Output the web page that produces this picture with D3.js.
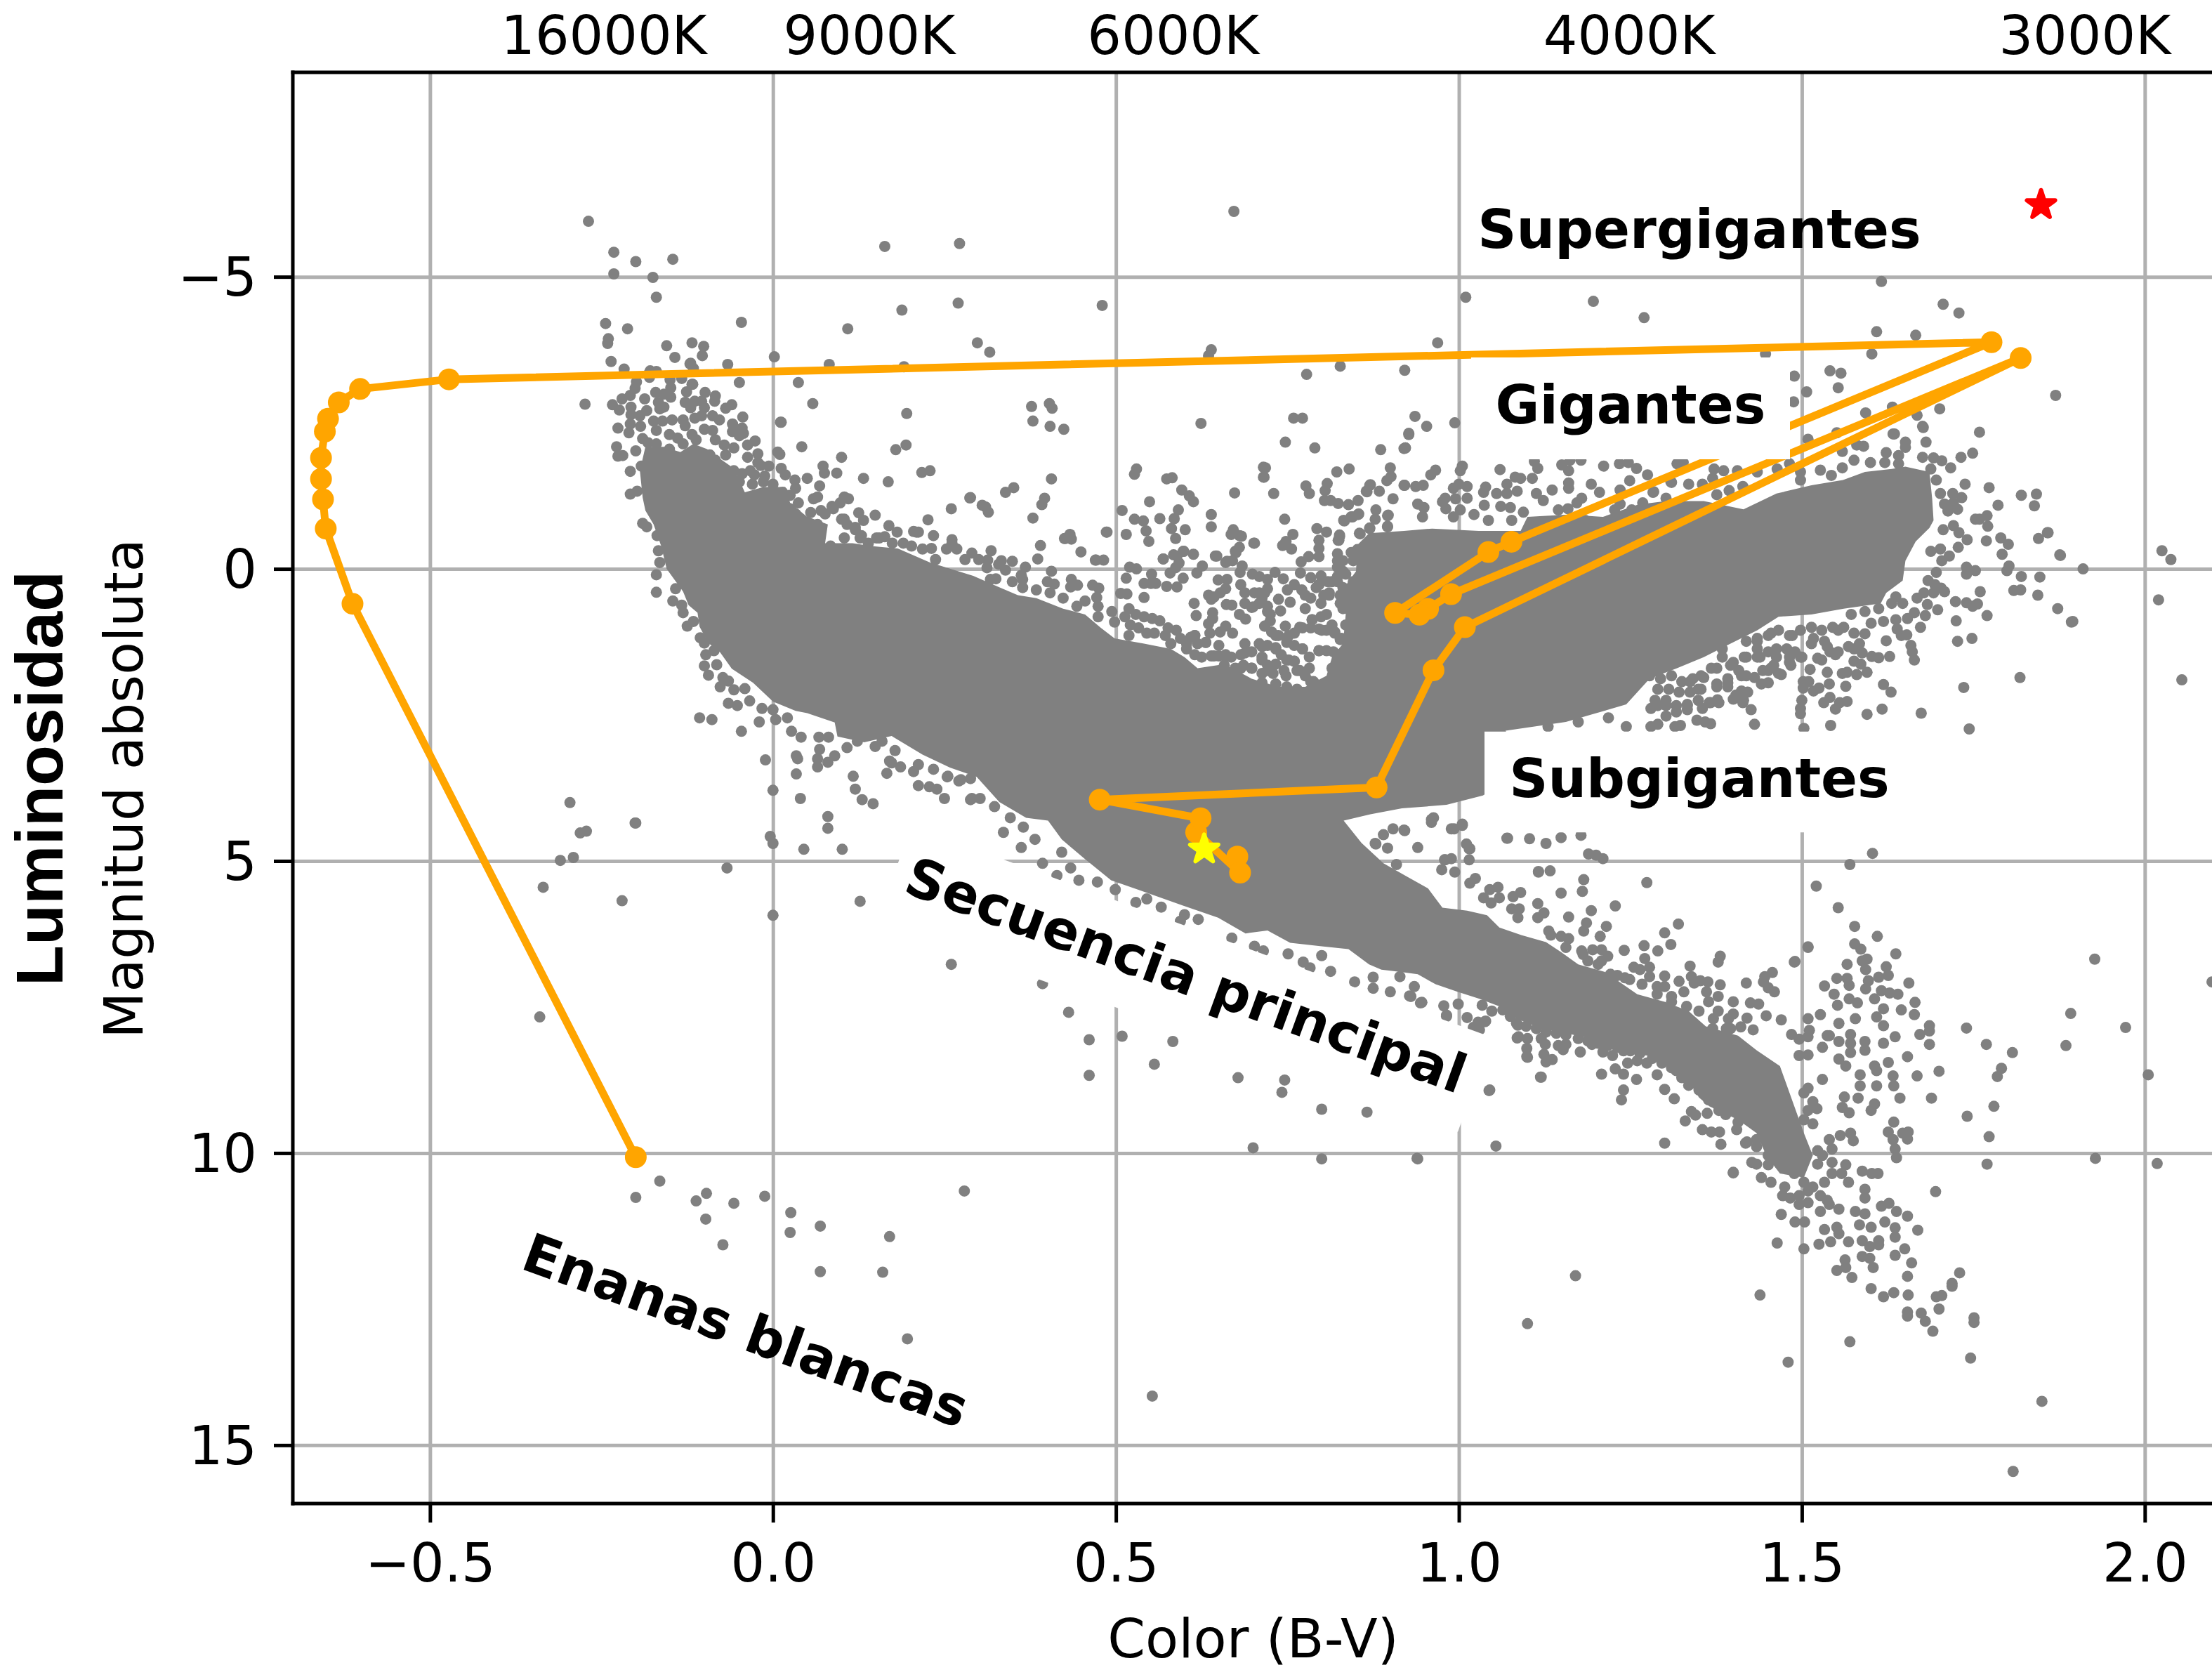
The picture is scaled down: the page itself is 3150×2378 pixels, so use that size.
<!DOCTYPE html>
<html><head><meta charset="utf-8">
<script src="https://cdn.jsdelivr.net/npm/d3@7"></script>
<style>html,body{margin:0;padding:0;background:#fff}text{font-family:"DejaVu Sans";fill:#000}</style>
</head><body><div id="c"></div>
<script>
const xTicks=[-0.5,0,0.5,1,1.5,2];
const yTicks=[-5,0,5,10,15];
const tempAt=[-0.247,0.14,0.583,1.248,1.912];
const tempLabels=["16000K","9000K","6000K","4000K","3000K"];
const sun=[0.6287,4.80];
const betelgeuse=[1.8487,-6.23];
const track=[[0.677,4.925],[0.681,5.2],[0.617,4.51],[0.6234,4.27],[0.4764,3.95],[0.88,3.74],[0.963,1.735],[1.0087,0.998],[1.819,-3.61],[0.9886,0.433],[0.955,0.685],[0.9425,0.785],[0.907,0.754],[1.043,-0.288],[1.0766,-0.465],[1.7765,-3.88],[-0.4724,-3.245],[-0.602,-3.08],[-0.633,-2.85],[-0.6487,-2.57],[-0.6533,-2.35],[-0.6589,-1.9],[-0.6589,-1.54],[-0.656,-1.19],[-0.652,-0.69],[-0.613,0.596],[-0.2,10.07]];
const coreOutline=[[-.194,-1.68],[-.186,-2.09],[-.159,-2.09],[-.135,-2],[-.116,-2.14],[-.096,-2.05],[-.08,-1.91],[-.057,-1.72],[-.041,-1.31],[-.014,-1.4],[.018,-1.4],[.025,-1.13],[.049,-.9],[.08,-.76],[.076,-.44],[.116,-.44],[.143,-.39],[.182,-.35],[.229,-.11],[.292,.12],[.327,.3],[.357,.45],[.384,.5],[.423,.68],[.455,.78],[.478,1.01],[.498,1.19],[.541,1.28],[.58,1.37],[.6,1.51],[.619,1.7],[.658,1.63],[.698,1.88],[.737,2.02],[.776,2.02],[.807,1.83],[.815,1.51],[.831,1.28],[.835,.78],[.827,.41],[.85,.04],[.852,-.41],[.869,-.61],[.92,-.65],[.961,-.69],[1.029,-.65],[1.09,-.65],[1.1,-.89],[1.159,-.93],[1.21,-.89],[1.261,-1.1],[1.302,-1.16],[1.357,-1.16],[1.415,-1.02],[1.463,-1.29],[1.514,-1.43],[1.56,-1.52],[1.592,-1.66],[1.631,-1.71],[1.651,-1.75],[1.686,-1.66],[1.69,-1.2],[1.692,-.83],[1.686,-.7],[1.666,-.47],[1.651,-.14],[1.647,.2],[1.623,.41],[1.615,.59],[1.561,.68],[1.514,.78],[1.466,.82],[1.435,1.05],[1.396,1.28],[1.357,1.51],[1.318,1.7],[1.278,1.88],[1.244,2.32],[1.156,2.62],[1.068,2.77],[1.1,3.4],[1.035,3.88],[.982,4.04],[.917,4.1],[.871,4.2],[.832,4.31],[.858,4.69],[.89,5.04],[.923,5.26],[.955,5.47],[.976,5.8],[1.012,5.85],[1.041,5.93],[1.059,6.14],[1.091,6.27],[1.127,6.39],[1.149,6.56],[1.174,6.77],[1.213,6.9],[1.26,7.28],[1.3,7.41],[1.335,7.57],[1.36,7.83],[1.407,7.99],[1.434,8.24],[1.468,8.51],[1.489,9.2],[1.503,9.66],[1.516,10.04],[1.503,10.42],[1.468,10.35],[1.448,10.04],[1.434,9.66],[1.407,9.43],[1.365,9.2],[1.35,9.05],[1.332,8.71],[1.314,8.54],[1.274,8.33],[1.228,8.25],[1.192,8.04],[1.156,7.95],[1.12,7.87],[1.084,7.7],[1.059,7.49],[1.03,7.36],[.998,7.24],[.966,7.11],[.94,6.94],[.915,6.9],[.887,6.86],[.869,6.77],[.839,6.51],[.8,6.46],[.754,6.4],[.721,6.19],[.689,6.24],[.649,5.97],[.597,5.76],[.532,5.49],[.493,5.33],[.453,4.95],[.421,4.63],[.401,4.31],[.369,4.26],[.33,3.99],[.297,3.56],[.258,3.4],[.218,3.18],[.173,2.86],[.133,2.97],[.094,2.87],[.09,2.63],[.05,2.47],[.033,2.43],[0,2.27],[-.029,1.95],[-.06,1.71],[-.077,1.43],[-.094,1.27],[-.107,.99],[-.11,.75],[-.123,.62],[-.131,.39],[-.155,0],[-.163,-.39],[-.174,-.76],[-.186,-1],[-.19,-1.22]];
const starsBright=[[-.269,-5.95],[-.232,-5.42],[-.232,-5.05],[-.2,-5.26],[-.146,-5.3],[-.175,-4.99],[-.17,-4.65],[.163,-5.52],[.272,-5.57],[.188,-4.43],[.27,-4.55],[.48,-4.51],[.672,-6.12],[-.046,-4.22],[.109,-4.11],[-.244,-4.2],[-.212,-4.11],[-.24,-3.94],[-.241,-3.86],[-.155,-3.82],[-.118,-3.87],[-.101,-3.81],[-.103,-3.65],[-.143,-3.62],[-.121,-3.51],[-.066,-3.5],[.002,-3.63],[.298,-3.87],[.316,-3.71],[-.236,-3.55],[.082,-3.5],[.191,-3.46],[.639,-3.75],[.635,-3.65],[-.217,-3.42],[-.179,-3.39],[.037,-3.19],[-.049,-3.19],[-.118,-3.16],[-.274,-2.82],[.058,-2.83],[.195,-2.66],[.011,-2.51],[.377,-2.78],[.403,-2.83],[.407,-2.75],[.379,-2.53],[.404,-2.44],[.424,-2.39],[.624,-2.49],[.042,-2.09],[.194,-2.12],[.179,-2.04],[.217,-1.65],[.229,-1.68],[.406,-1.54],[.1,-1.91],[.073,-1.76],[.075,-1.64],[.093,-1.64],[.05,-1.55],[.068,-1.42],[.132,-1.55],[.168,-1.49],[.339,-1.31],[.351,-1.39],[.287,-1.215],[.305,-1.09],[.314,-.97],[.26,-1.03],[.396,-1.21],[.392,-1.1],[.379,-.87],[.226,-.84],[.209,-.63],[.426,-.52],[.433,-.59],[.39,-.4],[.449,-.29],[.47,-.15],[.482,-.15],[.486,-.63],[.515,-.59],[.509,-1],[.527,-.85],[.53,-1.71],[.527,-1.62],[.549,-1.15],[.574,-1.54],[.582,-1.56],[.596,-1.35],[.607,-1.25],[.613,-1.15],[.591,-1.01],[.564,-.86],[.54,-.82],[.544,-.65],[.548,-.47],[.585,-.86],[.581,-.69],[.587,-.52],[.601,-.67],[.639,-.93],[.639,-.72],[.673,-1.3],[.671,-.63],[.68,-.57],[.701,-.44],[.598,-.3],[.645,-.22],[.675,-.28],[.662,-.13],[.569,-.17],[.589,-.22],[.715,-1.74],[.715,-1.57]];
const starsBlueEnd=[[-.18,-3.36],[-.17,-3.38],[-.18,-3.28],[-.12,-3.52],[-.116,-3.43],[-.15,-3.24],[-.133,-3.26],[-.199,-3.2],[-.201,-3.09],[-.208,-2.97],[-.22,-2.91],[-.234,-2.81],[-.224,-2.72],[-.117,-3.16],[-.126,-3.03],[-.099,-3.02],[-.084,-2.96],[-.085,-2.87],[-.171,-3.02],[-.149,-3.1],[-.149,-2.94],[-.159,-2.99],[-.187,-2.91],[-.167,-2.85],[-.159,-2.77],[-.165,-2.74],[-.128,-2.85],[-.12,-2.76],[-.114,-2.87],[-.104,-2.87],[-.1,-2.76],[-.069,-2.75],[-.06,-2.81],[-.207,-2.77],[-.207,-2.64],[-.194,-2.62],[-.184,-2.71],[-.044,-2.6],[.012,-2.51],[-.226,-2.41],[-.21,-2.33],[-.208,-2.48],[-.193,-2.44],[-.174,-2.53],[-.161,-2.53],[-.147,-2.55],[-.131,-2.55],[-.128,-2.45],[-.114,-2.58],[-.104,-2.62],[-.088,-2.62],[-.078,-2.55],[-.059,-2.48],[-.059,-2.35],[-.045,-2.41],[-.043,-2.32],[-.049,-2.28],[-.17,-2.37],[-.151,-2.3],[-.139,-2.24],[-.19,-2.23],[-.182,-2.16],[-.118,-2.3],[-.1,-2.39],[-.088,-2.37],[-.112,-2.21],[-.084,-2.21],[-.071,-2.12],[-.057,-2.07],[-.037,-2.12],[-.026,-2.19],[-.228,-2.09],[-.226,-1.93],[-.219,-1.94],[-.2,-2.02],[.007,-2],[.01,-1.96],[-.022,-1.97],[-.022,-1.82],[-.037,-1.91],[-.006,-1.76],[-.012,-1.59],[-.027,-1.61],[-.045,-1.63],[.012,-1.72],[.018,-1.61],[.032,-1.52],[.033,-1.38],[-.208,-1.67],[-.192,-1.76],[-.208,-1.28],[-.198,-1.33],[.059,-1.2],[.065,-1.23],[.104,-1.23],[.11,-1.2],[.098,-1.13],[.288,-1.22],[.125,-.96],[.149,-.92],[.132,-.83],[.086,-1.07],[.1,-.85],[.07,-.998],[.055,-.965],[.169,-.74],[.181,-.63],[.205,-.64],[.212,-.63],[.234,-.57],[.261,-.5],[.12,-.71],[.129,-.57],[.155,-.53],[.19,-.44],[.231,-.35],[.318,-.31],[.29,-.27],[.313,-.15],[-.19,-.78],[-.184,-.72],[-.169,-.57],[-.167,-.31],[-.165,-.11],[-.17,.1],[-.17,.4],[-.142,.34],[-.146,.55],[-.133,.62],[-.131,.75],[-.125,.98],[-.116,.9],[-.106,1.18],[-.1,1.27],[-.098,1.47],[-.086,1.4],[-.1,1.66],[-.082,1.64],[-.094,1.82],[-.073,1.86],[-.065,1.92],[-.077,2.02],[-.057,2.07],[-.041,2.05],[-.065,2.3],[-.052,2.34],[-.034,2.26],[-.107,2.55],[-.089,2.58],[-.046,2.78],[-.02,2.62],[-.016,2.39],[0,2.41],[.004,2.58],[.021,2.55],[.027,2.78],[.041,2.88],[.067,2.88],[.081,2.88],[.068,3.09],[.108,3.06],[.123,2.95],[.149,3.04],[.159,2.95],[.178,3.11]];
const starsUpperEdge=[[.076,-.94],[.088,-1.03],[.104,-.85],[.108,-.76],[.12,-.67],[.127,-.53],[.139,-.44],[.151,-.53],[.163,-.55],[.174,-.44],[.202,-.39],[.218,-.34],[.237,-.16],[.253,-.34],[.261,-.44],[.268,-.34],[.28,-.16],[.3,-.16],[.312,-.02],[.104,-.53],[.084,-.39],[.065,-.76],[.049,-.76],[.033,-.94],[.025,-1.03],[.037,-1.13],[.025,-1.26],[.014,-1.31],[0,-1.45],[-.014,-1.49],[-.03,-1.45],[-.033,-1.68],[-.018,-1.77],[-.057,-1.68],[-.049,-1.49],[-.069,-1.95],[-.084,-1.86],[-.092,-1.95],[-.17,-2.14],[-.151,-2.05],[-.131,-2.14],[.317,.18],[.364,.32],[.384,.36],[.404,.41],[.423,.5],[.443,.64],[.455,.55],[.474,.64],[.474,.82],[.494,.73],[.498,.91]];
const starsMottled=[[.717,.98],[.727,1.08],[.737,1.14],[.749,1.19],[.76,1.1],[.772,1.01],[.784,1.01],[.796,1.03],[.807,1.05],[.819,1.08],[.829,1.19],[.749,1.26],[.76,1.31],[.772,1.37],[.782,1.51],[.782,1.7],[.796,1.4],[.807,1.4],[.823,1.47],[.823,1.6],[.819,1.74],[.831,1.74],[.843,1.65],[.709,1.28],[.721,1.31],[.733,1.35],[.741,1.47],[.749,1.56],[.76,1.58],[.713,1.56],[.721,1.65],[.733,1.63],[.713,1.79],[.729,1.79],[.748,1.83],[.764,1.74],[.776,1.83],[.788,1.93],[.764,2.06],[.749,2.02],[.733,1.97],[.713,1.95],[.688,1.28],[.682,1.47],[.698,1.42],[.668,1.51],[.66,1.47],[.65,1.49],[.639,1.49],[.625,1.51],[.615,1.47],[.603,1.37],[.619,1.28],[.631,1.26],[.609,1.17],[.615,1.14],[.594,1.19],[.588,1.05],[.576,1.01],[.564,.89],[.553,.85],[.541,.82],[.529,.78],[.519,.68],[.513,.82],[.521,.96],[.533,1.01],[.545,1.1],[.519,1.14],[.556,1.1],[.572,1.14],[.58,1.28],[.686,1.65],[.698,1.7],[.674,1.7],[.658,1.65],[.725,.78],[.721,.64],[.709,.59],[.698,.66],[.702,.41],[.717,.41],[.786,.87],[.799,.82],[.803,.45],[.811,.41],[.827,.45],[.835,.5],[.831,.68],[.807,.78],[.815,.96],[.835,.96],[.776,.45],[.792,.32],[.815,.22],[.823,.13],[.831,.32],[.835,.09],[.846,.22],[.843,.41],[.85,.5],[.846,-.14],[.831,.04],[.823,-.14],[.852,-.33]];
const starsFaint=[[-.011,3.27],[.034,3.2],[.036,3.25],[.034,3.51],[0,3.79],[.04,3.93],[.117,3.55],[.12,3.77],[.13,3.95],[.146,4.02],[.065,3.25],[.065,3.39],[.08,3.31],[.09,3.2],[.166,3.5],[.173,3.32],[.186,3.39],[.212,3.71],[.228,3.73],[.239,3.77],[.205,3.47],[.212,3.35],[.234,3.43],[.255,3.55],[.25,3.93],[.271,3.63],[.288,3.59],[.288,3.95],[.302,3.93],[.08,4.24],[.08,4.44],[-.2,4.35],[-.004,4.58],[0,4.7],[.045,4.8],[.101,4.8],[-.067,5.12],[0,5.93],[.127,5.69],[-.296,4],[-.281,4.52],[-.272,4.49],[-.201,4.35],[-.31,4.99],[-.291,4.94],[-.335,5.45],[-.22,5.68],[-.34,7.67],[.26,6.77],[-.165,10.48],[-.2,10.76],[-.112,10.82],[-.097,10.69],[-.057,10.86],[-.098,11.13],[-.073,11.57],[-.012,10.74],[.026,11.02],[.025,11.36],[.069,11.25],[.069,12.03],[.17,11.43],[.16,12.04],[.196,13.18],[.279,10.65],[.553,14.16],[.336,4.51],[.362,4.77],[.393,5.04],[.393,7.1],[.431,7.59],[.461,8.06],[.509,8],[.583,8.09],[.556,8.48],[.461,8.67],[.678,8.71],[.746,8.75],[.742,8.96],[.8,9.25],[.866,9.3],[1.044,8.93],[.7,9.91],[.8,10.1],[.94,10.1],[1.054,9.88],[1.071,4.61],[1.103,4.62],[.94,4.77],[.904,4.45],[.92,4.47],[.89,4.55],[.878,4.7],[.896,4.78],[1.015,4.98],[.979,4.98],[1.116,5.19],[.909,5.06],[.963,4.26],[.96,4.34],[.989,4.45],[1.005,4.39],[1.015,4.79],[.473,5.36],[.499,5.49],[.529,5.71],[.545,5.65],[.566,5.79],[.6,5.92],[.62,6],[.594,6.03],[.669,6.32],[.702,6.46],[.715,6.54],[.751,6.59],[.773,6.73],[.783,6.83],[.813,6.89],[.8,6.62],[.848,7.07],[.875,6.99],[.9,7.24],[.875,7.18],[.93,7.32],[.946,7.42],[.982,7.64],[1.021,7.85],[1.038,7.75],[1.087,8.01],[1.1,8.04],[1.1,8.36],[1.12,8.7],[.17,3.29],[.254,3.56],[.274,3.61],[.29,3.93],[.323,4.07],[.346,4.26],[.365,4.42],[.382,4.63],[.421,4.85],[.434,5.12],[.414,5.25],[.446,5.33]];
const starsSubgiantTop=[[.31,-1.06],[.333,-.14],[.349,-.13],[.368,-.03],[.339,.02],[.329,-.08],[.362,.11],[.364,.18],[.325,.17],[.349,.22],[.406,.04],[.4,.22],[.41,.26],[.435,.18],[.434,.31],[.444,.28],[.466,.28],[.475,.33],[.472,.49],[.52,-.03],[.53,0],[.515,.16],[.507,.42],[.516,.43],[.541,.49],[.541,.25],[.551,.25],[.558,.25],[.552,.09],[.569,-.17],[.584,-.24],[.599,-.3],[.613,-.25],[.592,-.1],[.587,-.02],[.579,.07],[.598,.16],[.626,-.05],[.618,.07],[.574,.3],[.589,.31],[.649,.19],[.662,.18],[.66,.34],[.652,.41],[.643,.48],[.635,.45],[.614,.59],[.617,.8],[.661,.61],[.669,.62],[.639,.52],[.641,.75],[.641,.85],[.635,.94],[.637,1.1],[.68,.78],[.689,.86],[.66,.98],[.652,1.08],[.67,1.1],[.65,1.31],[.682,.27],[.688,.41],[.688,.59],[.7,.65],[.699,.09],[.709,.13],[.721,.18],[.732,.06],[.744,.17],[.769,.07],[.784,.15],[.799,.12],[.75,.36],[.76,.27],[.771,.36],[.796,.27],[.809,.22],[.709,.41],[.721,.34],[.713,.5],[.737,.52],[.754,.57],[.721,.73],[.74,.72],[.725,.89],[.717,.98],[.747,.98],[.776,.68],[.784,.5],[.823,.22],[.811,.45],[.827,.59],[.823,-.03],[.831,-.14],[.823,-.26],[.843,-.28],[.854,-.19],[.856,-.6],[.87,-.7],[.896,-.72],[.603,1.28],[.615,1.14],[.631,1.26],[.643,1.49],[.66,1.49],[.688,1.44],[.713,1.33],[.733,1.37],[.752,1.56],[.76,1.58],[.772,1.37],[.796,1.4],[.817,1.42],[.827,1.21],[.733,1.14],[.752,1.14],[.768,1],[.786,.87],[.8,1.05],[.819,1.1],[.713,1.51],[.721,1.74],[.698,1.7],[.682,1.7],[.745,1.74],[.768,1.74],[.784,1.93],[.815,1.7],[.799,.59],[.747,-2.17],[.79,-2.07],[.73,-1.29],[.718,-1.73],[.716,-1.57],[.777,-1.42],[.782,-1.29],[.822,-1.66],[.84,-1.71],[.808,-1.46],[.805,-1.34],[.804,-1.17],[.813,-1.17],[.824,-1.12],[.839,-1.1],[.853,-1.17],[.866,-1.32],[.871,-1.44],[.884,-1.33],[.895,-1.51],[.901,-1.58],[.9,-1.73],[.904,-1.2],[.886,-2.04],[.92,-2.06],[.92,-1.43],[.746,-.85],[.833,-.82],[.845,-.89],[.854,-.94],[.879,-1.01],[.878,-.85],[.897,-.92],[.793,-.69],[.807,-.63],[.826,-.58],[.825,-.49],[.758,-.59],[.743,-.4],[.756,-.34],[.748,-.47],[.796,-.49],[.796,-.35],[.796,-.21],[.781,-.21],[.77,-.12],[.671,-.67],[.668,-.59],[.683,-.56],[.702,-.44],[.68,-.37],[.674,-.3],[.647,-.22],[.66,-.11],[.67,-.14],[.684,-.05],[.681,.06],[.487,-.63],[.425,-.52],[.435,-.51],[.386,-.17],[.471,-.15]];
const starsRedClump=[[.922,-2.07],[.927,-2.3],[.966,-1.69],[.959,-1.61],[1.005,-1.76],[1.002,-1.68],[1.06,-1.7],[1.11,-1.84],[1.115,-1.72],[1.15,-1.78],[1.16,-1.68],[1.162,-1.86],[1.178,-1.86],[1.211,-1.76],[1.234,-1.8],[1.247,-1.82],[1.259,-1.72],[1.275,-1.61],[1.319,-1.8],[1.082,-1.57],[1.09,-1.55],[1.107,-1.55],[1.249,-1.51],[1.309,-1.49],[.921,-1.43],[.937,-1.41],[.948,-1.43],[.87,-1.43],[.865,-1.33],[.992,-1.38],[1,-1.45],[1.012,-1.41],[1.039,-1.4],[1.036,-1.31],[1.07,-1.45],[1.085,-1.33],[1.055,-1.29],[1.07,-1.29],[1.136,-1.35],[1.16,-1.47],[1.16,-1.38],[1.193,-1.45],[1.205,-1.31],[1.113,-1.29],[1.123,-1.17],[1.235,-1.35],[1.235,-1.11],[1.227,-1.01],[1.283,-1.31],[1.302,-1.21],[1.179,-1.21],[1.172,-1.13],[.976,-1.15],[.98,-1.21],[.995,-1.2],[1.012,-1.21],[.94,-1.11],[.949,-1.05],[.947,-.89],[1.037,-1.09],[.896,-.91],[.853,-.93],[.843,-.89],[.832,-.83],[.981,-1.03],[1.002,-1.01],[1.022,-.93],[1.061,-1.07],[1.075,-1.05],[1.094,-.97],[1.145,-1.01],[1.159,-1.03],[1.268,-1.13],[1.252,-1.01],[.87,-.69],[.896,-.73],[.855,-.61],[.826,-.55],[.824,-.49],[1.184,-.83],[1.235,-.83],[1.281,-.75],[.992,-.89],[1.043,-.83],[1.077,-.83]];
const starsGiantBranch=[[1.87,-2.97],[1.616,-4.92],[1.706,-4.53],[1.729,-4.38],[1.609,-4.06],[1.666,-4],[1.602,-3.68],[1.759,-2.34],[1.196,-4.58],[1.27,-4.3],[1.01,-4.65],[.969,-3.87],[.921,-3.4],[.827,-3.47],[.778,-3.33],[.759,-2.58],[.772,-2.58],[.936,-2.61],[.953,-2.44],[.927,-2.32],[.922,-2.07],[.994,-2.5],[1.541,-3.39],[1.557,-3.35],[1.553,-3.1],[1.507,-3.03],[1.489,-3.3],[1.488,-2.86],[1.593,-2.67],[1.632,-2.77],[1.668,-2.63],[1.701,-2.74],[1.676,-2.44],[1.681,-2.17],[1.635,-2.31],[1.447,-3.68],[1.82,-1.26],[1.842,-1.28],[1.839,-1.08],[2.025,-.31],[2.038,-.16],[2.02,.53],[2.054,1.9],[1.91,0],[1.877,-.23],[1.845,-.52],[1.859,-.62],[1.873,.68],[1.895,.9],[1.818,1.86],[1.736,2.03],[1.744,2.74],[1.674,2.47],[1.677,-2.42],[1.676,-1.91],[1.633,-2.31],[1.749,-1.98],[1.732,-1.91],[1.651,-2.17],[1.651,-2.08],[1.509,-2.22],[1.551,-2.33],[1.58,-2.12],[1.59,-2.1],[1.559,-2.01],[1.576,-1.86],[1.559,-1.73],[1.623,-1.99],[1.641,-1.94],[1.641,-1.8],[1.6,-1.82],[1.621,-1.82],[1.692,-1.9],[1.704,-1.85],[1.717,-1.73],[1.688,-1.71],[1.318,-1.8],[1.327,-1.82],[1.372,-1.71],[1.386,-1.68],[1.406,-1.68],[1.435,-1.66],[1.464,-1.71],[1.482,-1.8],[1.527,-1.69],[1.543,-1.6],[1.498,-1.66],[1.498,-1.52],[1.31,-1.48],[1.335,-1.45],[1.37,-1.55],[1.355,-1.45],[1.414,-1.41],[1.394,-1.34],[1.284,-1.32],[1.376,-1.27],[1.696,-1.52],[1.738,-1.45],[1.773,-1.39],[1.786,-1.09],[1.72,-1.29],[1.733,-1.22],[1.702,-1.29],[1.708,-1.11],[1.713,-.99],[1.727,-1.02],[1.721,-1.13],[1.77,-.91],[1.753,-.85],[1.759,-.85],[1.771,-.73],[1.858,-.62],[1.721,-.74],[1.729,-.62],[1.741,-.5],[1.706,-.67],[1.769,-.48],[1.79,-.53],[1.801,-.42],[1.792,-.25],[1.876,-.24],[1.728,-.37],[1.715,-.22],[1.704,-.14],[1.702,-.34],[1.688,-.3],[1.74,-.03],[1.753,.03],[1.74,.09],[1.802,-.05],[1.799,.03],[1.82,.13],[1.847,.14],[1.696,.06],[1.684,.2],[1.694,.27],[1.76,.39],[1.809,.37],[1.819,.36],[1.844,.45],[1.893,.91],[1.703,.33],[1.708,.39],[1.692,.41],[1.724,.56],[1.74,.58],[1.749,.64],[1.756,.6],[1.683,.61],[1.698,.7],[1.68,.8],[1.77,.8],[1.725,.89],[1.727,1.24],[1.748,1.19],[1.673,1],[1.664,.75],[1.654,.85],[1.637,.87],[1.639,1.03],[1.645,1.14],[1.653,1.13],[1.623,1.23],[1.659,1.31],[1.661,1.42],[1.664,1.56],[1.628,1.5],[1.612,1.52],[1.602,1.5],[1.592,1.11],[1.601,.93],[1.619,.9],[1.647,.59],[1.637,.48],[1.668,.5],[1.678,.41],[1.588,1.44],[1.576,1.58],[1.586,1.63],[1.595,1.77],[1.58,1.81],[1.566,1.77],[1.559,1.79],[1.619,1.98],[1.63,2.11],[1.617,2.4],[1.595,2.49],[1.542,2.68],[1.564,2.01],[1.54,1.97],[1.537,1.77],[1.512,1.72],[1.529,1.56],[1.523,1.53],[1.566,2.27],[1.555,2.29],[1.549,2.4],[1.541,2.2],[1.532,2.29],[1.525,2.04],[1.517,2.09],[1.51,1.93],[1.502,1.93],[1.502,2.04],[1.5,2.25],[1.498,2.39],[1.498,2.48],[1.426,2.41],[1.431,2.66],[1.503,2.73],[1.47,1.81],[1.451,1.95],[1.441,1.97],[1.431,1.86],[1.421,2.11],[1.414,2.29],[1.4,2.23],[1.379,2.29],[1.367,2.29],[1.355,2.39],[1.376,2.02],[1.392,1.95],[1.357,1.86],[1.367,2.65],[1.347,2.59],[1.323,2.68],[1.333,2.41],[1.317,2.45],[1.302,2.52],[1.29,2.66],[1.302,2.34],[1.29,2.34],[1.459,1.65],[1.451,1.74],[1.463,1.51],[1.439,1.51],[1.419,1.51],[1.482,1.51],[1.498,1.51],[1.484,1.65],[1.435,1.19],[1.435,1.37],[1.455,1.1],[1.486,1.14],[1.514,1.28],[1.537,1.33],[1.549,1.47],[1.576,1.37],[1.553,1.05],[1.396,1.65],[1.376,1.7],[1.412,1.83],[1.384,1.37],[1.419,1.24],[1.337,1.93],[1.349,2.06]];
const starsGiantLowerFringe=[[1.278,1.83],[1.294,1.88],[1.31,1.83],[1.325,1.93],[1.341,1.88],[1.353,1.83],[1.29,2.06],[1.306,2.06],[1.321,2.11],[1.337,2.11],[1.353,2.06],[1.286,2.25],[1.302,2.25],[1.317,2.34],[1.333,2.34],[1.349,2.25],[1.365,2.29],[1.368,1.7],[1.384,1.51],[1.4,1.6],[1.416,1.51],[1.392,1.88],[1.408,1.74],[1.419,1.83],[1.376,1.97],[1.392,2.02],[1.404,2.16],[1.415,2.25],[1.443,1.74],[1.455,1.7],[1.466,1.79],[1.435,1.51],[1.451,1.42],[1.463,1.37],[1.478,1.37],[1.49,1.42],[1.5,1.51],[1.482,1.6],[1.435,1.24],[1.451,1.14],[1.466,1.05],[1.482,1.14],[1.498,1.05],[1.514,1],[1.529,1.05],[1.545,1],[1.561,1],[1.576,1.1],[1.584,1.28],[1.568,1.33],[1.553,1.42],[1.541,1.42],[1.533,1.24],[1.517,1.19],[1.572,.78],[1.592,.73],[1.612,.68],[1.631,.59],[1.28,2.39],[1.315,2.7],[1.359,2.62],[1.333,2.32],[1.377,2.24],[1.412,2.09],[1.218,2.55],[1.174,2.62],[1.13,2.7],[1.244,2.7],[1.28,2.7]];
const starsLowerBand=[[1.07,4.61],[1.127,4.7],[1.149,4.6],[1.178,4.56],[1.189,4.88],[1.2,4.9],[1.21,4.96],[1.116,5.18],[1.133,5.17],[1.182,5.32],[1.18,5.52],[1.274,5.37],[1.149,5.55],[1.228,5.77],[1.193,5.85],[1.16,5.96],[1.186,6.06],[1.182,6.2],[1.215,6.12],[1.206,6.29],[1.32,6.08],[1.3,6.23],[1.309,6.43],[1.29,6.54],[1.27,6.45],[1.241,6.53],[1.381,6.63],[1.378,6.73],[1.271,6.67],[1.337,6.8],[1.278,6.82],[1.255,6.82],[1.3,6.97],[1.3,7.15],[1.381,7.12],[1.419,7.09],[1.321,7.06],[1.339,6.98],[1.352,7.05],[1.363,7.07],[1.378,7.32],[1.4,7.41],[1.425,7.43],[1.42,7.69],[1.411,7.84],[1.429,7.89],[1.208,8.65],[1.228,8.56],[1.24,8.65],[1.259,8.74],[1.119,8.7],[1.045,8.92],[1.24,8.92],[1.237,9.09],[1.3,8.91],[1.314,9.07],[1.289,8.66],[1.339,9.29],[1.33,9.45],[1.362,9.32],[1.355,9.6],[1.368,9.64],[1.38,9.64],[1.405,9.6],[1.3,9.83],[1.382,9.85],[1.418,9.83],[1.4,10.34],[.939,10.09],[1.085,8.03],[1.099,8.21],[1.099,8.35],[1.124,8.31],[1.127,8.44],[1.136,8.4],[1.126,8.14],[1.145,8.16],[1.152,8.23],[1.156,8.14],[1.177,8.27],[1.194,8.14],[1.21,8.27],[1.224,8.33],[1.24,8.25],[1.246,8.46],[1.26,8.42],[1.274,8.46],[.982,7.66],[1.012,7.68],[1.028,7.76],[1.039,7.74],[1.03,7.89],[.928,7.31],[.944,7.43],[.978,7.48],[.999,7.45],[.914,6.98],[.935,7.15],[1.034,7.47],[1.048,7.57],[1.064,7.55],[1.075,7.66],[1.086,7.81],[1.12,8.04],[.921,4.48],[.879,4.71],[.993,4.45],[1.005,4.37],[.96,4.29],[1.011,4.71],[1.016,4.79],[.98,4.98],[.989,4.96],[.975,5.15],[.994,5.19],[1.016,5.38],[1.024,5.3],[1.045,5.49],[1.057,5.45],[1.036,5.63],[1.059,5.63],[1.047,5.72],[1.079,5.61],[1.09,5.54],[1.077,5.82],[1.088,5.82],[1.115,5.73],[1.124,5.89],[1.115,5.97],[1.086,5.97],[1.149,6.29],[1.16,6.33],[1.131,6.2],[1.179,6.54],[1.195,6.52],[1.208,6.52],[1.217,6.63],[1.188,6.71],[1.208,6.71],[1.231,6.96],[1.242,7],[1.264,6.86],[1.278,6.98],[1.289,7.15],[1.31,7.32],[1.328,7.24],[1.343,7.09],[1.361,7.24],[1.364,7.41],[1.378,7.57],[1.4,7.62],[1.37,7.87],[1.39,7.87],[1.084,7.78],[1.098,7.83],[1.113,7.87],[1.127,7.93],[1.142,7.95],[1.156,7.98],[1.174,8.04],[1.188,8.08],[1.203,8.12],[1.217,8.16],[1.231,8.19],[1.25,8.25],[1.264,8.29],[1.282,8.38],[1.296,8.46],[1.31,8.54],[1.325,8.71],[1.335,8.84],[1.35,8.92],[1.364,9.09],[1.378,9.18],[1.389,9.34],[1.134,6.27],[1.156,6.48],[1.181,6.6],[1.203,6.77],[1.221,6.94],[1.249,7.03],[1.267,7.11],[1.289,7.28],[1.31,7.41],[1.332,7.49],[1.35,7.57],[1.371,7.7],[1.393,7.7],[1.396,7.87]];
const starsRedDwarfs=[[1.446,6.98],[1.457,6.91],[1.444,7.07],[1.451,7.17],[1.46,7.24],[1.489,6.73],[1.509,6.48],[1.437,7.45],[1.448,7.65],[1.47,7.72],[1.485,7.97],[1.496,8.05],[1.509,7.7],[1.511,7.9],[1.509,8.01],[1.509,8.32],[1.496,8.33],[1.527,7.63],[1.54,7.99],[1.53,8.19],[1.53,8.74],[1.509,8.89],[1.516,9.12],[1.522,9.24],[1.556,9.7],[1.571,9.66],[1.575,9.79],[1.54,9.77],[1.544,9.93],[1.4,10.33],[1.427,10.16],[1.451,10.2],[1.441,10.42],[1.455,10.5],[1.42,9.81],[1.434,9.77],[1.475,10.58],[1.472,10.73],[1.483,10.77],[1.496,10.88],[1.49,11.18],[1.504,11.18],[1.47,11.05],[1.464,11.54],[1.503,11.64],[1.509,10.85],[1.527,11],[1.537,10.81],[1.523,9.96],[1.564,10.2],[1.544,10.16],[1.558,10.35],[1.588,10.31],[1.602,10.35],[1.611,10.35],[1.568,10.5],[1.592,10.62],[1.592,10.77],[1.54,10.88],[1.554,10.96],[1.578,11],[1.592,11.04],[1.616,10.91],[1.627,10.86],[1.638,11],[1.654,11.08],[1.621,11.18],[1.636,11.28],[1.636,11.44],[1.669,11.32],[1.601,11.27],[1.584,11.23],[1.551,11.27],[1.533,11.31],[1.554,11.38],[1.525,11.56],[1.542,11.52],[1.568,11.52],[1.588,11.5],[1.612,11.5],[1.612,11.57],[1.599,11.6],[1.588,11.77],[1.599,11.8],[1.604,11.96],[1.65,11.64],[1.636,11.75],[1.66,11.88],[1.654,12.11],[1.563,11.83],[1.551,12.01],[1.573,12.13],[1.564,11.96],[1.601,12.32],[1.619,12.46],[1.634,12.39],[1.655,12.43],[1.654,12.72],[1.654,12.79],[1.674,12.74],[1.68,12.88],[1.691,13.05],[1.696,12.46],[1.704,12.44],[1.7,12.67],[1.719,12.23],[1.719,12.28],[1.73,12.05],[1.751,12.82],[1.751,12.9],[1.746,13.51],[1.57,13.23],[1.48,13.58],[1.439,12.43],[1.17,12.1],[1.1,12.92],[1.85,14.25],[1.808,15.45],[1.695,10.66],[1.77,10.19],[1.928,10.09],[2.018,10.18],[1.741,9.37],[1.773,9.72],[1.78,9.2],[1.785,8.69],[1.791,8.55],[1.807,8.28],[1.769,8.14],[1.74,7.86],[1.885,8.16],[1.892,7.61],[1.927,6.68],[1.972,7.85],[2.005,8.66],[2.098,7.07],[1.689,9.06],[1.7,8.6],[1.668,8.68],[1.654,8.35],[1.686,8.14],[1.686,7.91],[1.686,7.82],[1.672,7.97],[1.665,7.42],[1.664,7.63],[1.645,7.55],[1.656,7.09],[1.64,7.28],[1.628,7.26],[1.616,7.22],[1.637,6.59],[1.623,6.81],[1.626,6.96],[1.612,6.99],[1.61,6.29],[1.577,6.12],[1.553,5.8],[1.521,5.43],[1.509,6.47],[1.49,6.72],[1.57,5.06],[1.603,4.87],[1.577,6.42],[1.586,6.51],[1.595,6.68],[1.588,6.71],[1.593,6.86],[1.597,7.05],[1.593,7.19],[1.566,6.77],[1.533,7.14],[1.551,7.01],[1.566,7.01],[1.569,7.13],[1.547,7.28],[1.552,7.47],[1.569,7.36],[1.581,7.43],[1.606,7.36],[1.619,7.53],[1.609,7.67],[1.619,7.82],[1.578,7.7],[1.554,7.78],[1.537,7.99],[1.571,8.12],[1.592,8.09],[1.554,8.09],[1.571,8.28],[1.592,8.24],[1.571,7.97],[1.636,8.01],[1.619,8.12],[1.626,8.45],[1.609,8.59],[1.554,8.39],[1.564,8.51],[1.585,8.66],[1.606,8.51],[1.633,8.68],[1.634,8.85],[1.609,8.85],[1.585,8.85],[1.643,9.06],[1.562,9.04],[1.582,9.06],[1.606,9.16],[1.601,9.27],[1.559,9.22],[1.569,9.31],[1.634,9.47],[1.626,9.64],[1.647,9.66],[1.655,9.64],[1.633,9.77],[1.654,9.76],[1.636,9.93],[1.638,10.08],[1.434,9.89],[1.451,10.04],[1.468,10.19],[1.489,10.35],[1.503,10.5],[1.516,10.58],[1.533,10.5],[1.544,10.35],[1.53,10.04],[1.523,10.19],[1.496,10.73],[1.509,10.65],[1.527,10.73],[1.434,10.19],[1.475,9.58],[1.503,9.43],[1.503,8.97],[1.509,9.27],[1.516,9.5],[1.42,9.27],[1.393,9.2],[1.358,8.97],[1.338,8.74],[1.317,8.59],[1.407,9.47],[1.379,9.27],[1.345,9.35],[1.448,9.5]];

const W=3150,H=2378,L=417,T=103,R=3152,B=2141;
const x=d3.scaleLinear().domain([-0.7,2.1]).range([L,R]);
const y=d3.scaleLinear().domain([-8.5,16]).range([T,B]);
const svg=d3.select("#c").append("svg").attr("width",W).attr("height",H).style("display","block").style("background","#fff");
const gridColor="#b0b0b0",gray="#808080",orange="#ffa500",tickFont=76.5;
svg.append("defs").append("clipPath").attr("id","ax").append("rect").attr("x",L).attr("y",T).attr("width",R-L).attr("height",B-T);

const gridX=svg.append("g").attr("transform",`translate(0,${B})`).call(d3.axisBottom(x).tickValues(xTicks).tickSize(-(B-T)).tickFormat(""));
const gridY=svg.append("g").attr("transform",`translate(${L},0)`).call(d3.axisLeft(y).tickValues(yTicks).tickSize(-(R-L)).tickFormat(""));
[gridX,gridY].forEach(g=>{g.select(".domain").remove();g.selectAll("line").attr("stroke",gridColor).attr("stroke-width",5);});

const plot=svg.append("g").attr("clip-path","url(#ax)");
plot.append("path").attr("d",d3.line().x(d=>x(d[0])).y(d=>y(d[1])).curve(d3.curveLinearClosed)(coreOutline)).attr("fill",gray);
const allStars=[].concat(starsBright,starsBlueEnd,starsUpperEdge,starsMottled,starsFaint,starsSubgiantTop,starsRedClump,starsGiantBranch,starsGiantLowerFringe,starsLowerBand,starsRedDwarfs);
plot.append("g").selectAll("circle").data(allStars).join("circle").attr("cx",d=>x(d[0])).attr("cy",d=>y(d[1])).attr("r",8).attr("fill",gray);

plot.append("path").attr("d",d3.line().x(d=>x(d[0])).y(d=>y(d[1]))(track)).attr("fill","none").attr("stroke",orange).attr("stroke-width",11).attr("stroke-linejoin","round");
plot.append("g").selectAll("circle").data(track).join("circle").attr("cx",d=>x(d[0])).attr("cy",d=>y(d[1])).attr("r",15.5).attr("fill",orange);

const star=d3.symbol(d3.symbolStar,500);
[[sun,"#ffff00"],[betelgeuse,"#ff0000"]].forEach(([p,c])=>{
  plot.append("path").attr("d",star()).attr("transform",`translate(${x(p[0])},${y(p[1])})`).attr("fill",c).attr("stroke",c).attr("stroke-width",6).attr("stroke-linejoin","round");
});

const bold=76.7;
function label(txt,opt){
  const g=svg.append("g").attr("transform",`translate(${opt.cx},${opt.cy}) rotate(${opt.rot||0})`);
  if(opt.box) g.append("rect").attr("x",-opt.box[0]/2).attr("y",-opt.box[1]/2).attr("width",opt.box[0]).attr("height",opt.box[1]).attr("fill","#fff");
  g.append("text").text(txt).attr("text-anchor","middle").attr("y",21).attr("font-size",bold).attr("font-weight","bold");
}
label("Supergigantes",{cx:2420,cy:332});
label("Gigantes",{cx:2322,cy:581.5,box:[454,145]});
label("Subgigantes",{cx:2420,cy:1113.5,box:[612,143.5]});
label("Secuencia principal",{cx:1687,cy:1394,rot:20,box:[880,143]});
label("Enanas blancas",{cx:1060,cy:1900,rot:20});

const spine=(a,b,c,d)=>svg.append("line").attr("x1",a).attr("y1",b).attr("x2",c).attr("y2",d).attr("stroke","#000").attr("stroke-width",5).attr("stroke-linecap","square");
spine(L,T,L,B);spine(L,T,R,T);spine(L,B,R,B);

const ax=svg.append("g").attr("transform",`translate(0,${B})`).call(d3.axisBottom(x).tickValues(xTicks).tickSize(27).tickPadding(30).tickFormat(d3.format(".1f")));
const ay=svg.append("g").attr("transform",`translate(${L},0)`).call(d3.axisLeft(y).tickValues(yTicks).tickSize(27).tickPadding(24).tickFormat(d3.format("d")));
const at=svg.append("g").attr("transform",`translate(0,${T})`).call(d3.axisTop(x).tickValues(tempAt).tickSize(0).tickPadding(26).tickFormat((d,i)=>tempLabels[i]));
[ax,ay,at].forEach(g=>{g.select(".domain").remove();g.attr("font-family",null).attr("font-size",null);g.selectAll("line").attr("stroke","#000").attr("stroke-width",5);g.selectAll("text").attr("font-size",tickFont).style("fill","#000");});
ay.selectAll("text").attr("y",2);

svg.append("text").text("Color (B-V)").attr("x",(L+R)/2).attr("y",2360).attr("text-anchor","middle").attr("font-size",77);
svg.append("text").text("Magnitud absoluta").attr("transform","translate(203,1123) rotate(-90)").attr("text-anchor","middle").attr("font-size",76.5);
svg.append("text").text("Luminosidad").attr("transform","translate(89,1108.5) rotate(-90)").attr("text-anchor","middle").attr("font-size",95).attr("font-weight","bold").style("font-family","'Liberation Sans'");
</script></body></html>
